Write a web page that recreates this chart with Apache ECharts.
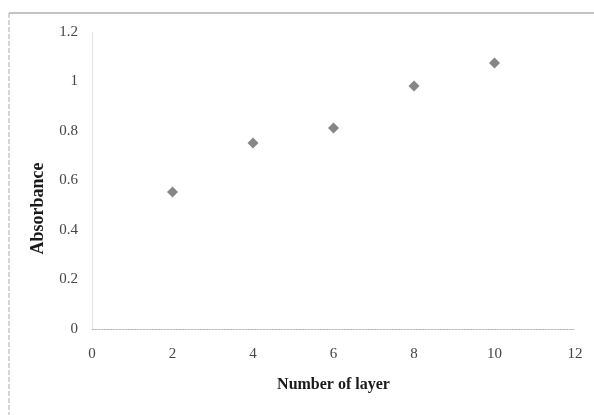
<!DOCTYPE html>
<html><head><meta charset="utf-8">
<script src="https://cdn.jsdelivr.net/npm/echarts@6/dist/echarts.min.js"></script>
<style>html,body{margin:0;padding:0;background:#fff}#c{width:594px;height:415px}</style>
</head><body><div id="c"></div>
<script>
const layers = [2, 4, 6, 8, 10];
const absorbance = [0.554, 0.752, 0.812, 0.982, 1.075];
const xTitle = 'Number of layer';
const yTitle = 'Absorbance';

const chart = echarts.init(document.getElementById('c'));
chart.setOption({
  animation: false,
  backgroundColor: '#fff',
  graphic: [{
    type: 'line', silent: true, z: -1,
    shape: { x1: 9, y1: 13, x2: 594, y2: 13 },
    style: { stroke: '#8a8a8a', lineWidth: 1.2 }
  }, {
    type: 'line', silent: true, z: -1,
    shape: { x1: 9, y1: 13, x2: 9, y2: 415 },
    style: { stroke: '#aaa', lineWidth: 1, lineDash: [5, 2] }
  }],
  grid: { left: 92, right: 19, top: 32, bottom: 86, containLabel: false },
  xAxis: {
    type: 'value', min: 0, max: 12, interval: 2,
    name: xTitle, nameLocation: 'middle', nameGap: 48,
    nameTextStyle: { fontFamily: 'Liberation Serif', fontWeight: 'bold', fontSize: 16, color: '#1a1a1a' },
    axisLine: { show: true, lineStyle: { color: '#bbb', type: [2, 1], width: 1 } },
    axisTick: { show: false },
    splitLine: { show: false },
    axisLabel: { fontFamily: 'Liberation Serif', fontSize: 15, color: '#444', margin: 18 }
  },
  yAxis: {
    type: 'value', min: 0, max: 1.2, interval: 0.2,
    name: yTitle, nameLocation: 'middle', nameGap: 45,
    nameTextStyle: { fontFamily: 'Liberation Serif', fontWeight: 'bold', fontSize: 18, color: '#1a1a1a', padding: [0, 56, 0, 0] },
    axisLine: { show: true, lineStyle: { color: '#e4e4e4', width: 1 } },
    axisTick: { show: false },
    splitLine: { show: false },
    axisLabel: { fontFamily: 'Liberation Serif', fontSize: 15, color: '#444', margin: 14,
      formatter: v => String(Math.round(v * 10) / 10) }
  },
  series: [{
    type: 'scatter',
    data: layers.map((x, i) => [x, absorbance[i]]),
    symbol: 'diamond', symbolSize: 11,
    itemStyle: { color: '#686868' }
  }]
});
</script></body></html>
